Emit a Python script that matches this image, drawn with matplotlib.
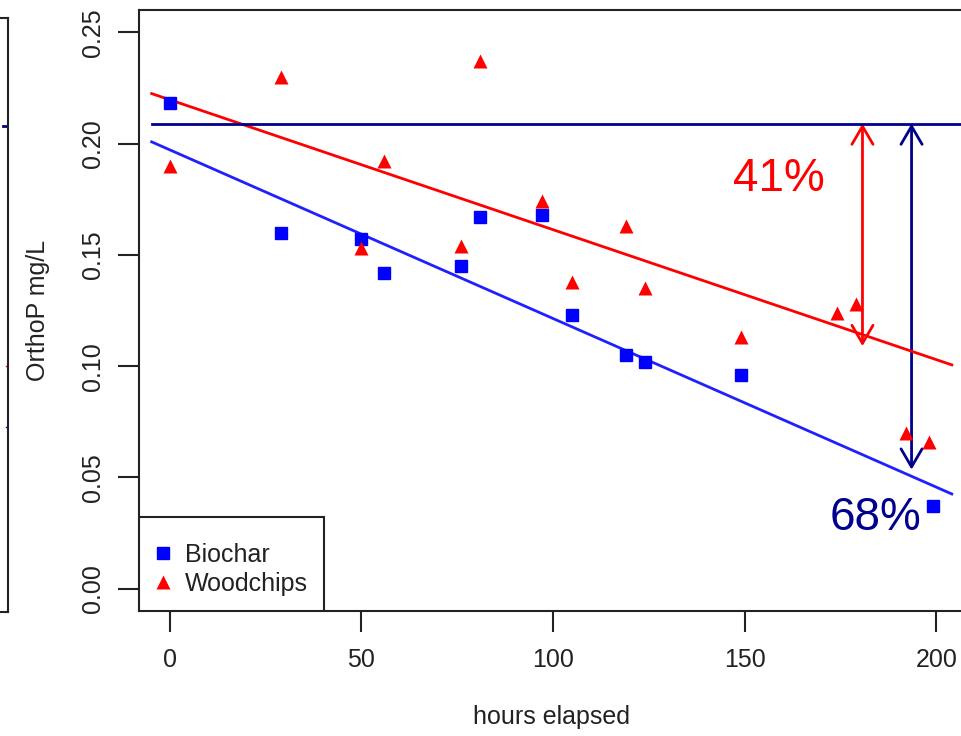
"""OrthoP decline: biochar vs woodchips with linear fits."""
import matplotlib
matplotlib.use("Agg")
import matplotlib.pyplot as plt
from matplotlib.patches import FancyArrowPatch, Rectangle

plt.rcParams['font.family'] = ['Liberation Sans', 'DejaVu Sans']

# data
biochar_hours = [0, 29, 50, 56, 76, 81, 97, 105, 119, 124, 149, 199]
biochar_orthop = [0.218, 0.160, 0.157, 0.142, 0.145, 0.167, 0.168, 0.123, 0.105, 0.102, 0.096, 0.037]

wood_hours = [0, 29, 50, 56, 76, 81, 97, 105, 119, 124, 149, 174, 179, 192, 198]
wood_orthop = [0.190, 0.230, 0.153, 0.192, 0.154, 0.237, 0.174, 0.138, 0.163, 0.135, 0.113,
               0.124, 0.128, 0.070, 0.066]

# fitted lines (intercept, slope per hour) and the start level
fit_x = [-4.7, 204]
biochar_fit = (0.1972, -0.000758)
wood_fit = (0.2197, -0.000584)
start_level = 0.209

# reduction arrows: hour, lower end; labels and where they sit
wood_arrow = (180.7, 0.109)
biochar_arrow = (193.5, 0.0535)
wood_pct = ("41%", 159.0, 0.184)
biochar_pct = ("68%", 184.0, 0.032)

# left neighbour panel (only its right edge shows)
left_levels = {"navy": 0.211, "red": 0.102, "blue": 0.074}

RED = "#ff0000"
BLUE = "#0000ff"
NAVY = "#00008b"
INK = "#222222"


def main():
    W, H = 961, 736
    fig = plt.figure(figsize=(W / 100, H / 100), dpi=100)

    # main axes, right edge runs past the figure like the cropped original
    x0, x1 = -8.0, 207.0
    ppx = 3.834
    left_px, top_px, bot_px = 139, 10, 611
    ax_w_px = (x1 - x0) * ppx
    ax_h_px = bot_px - top_px
    ax = fig.add_axes([left_px / W, 1 - bot_px / H, ax_w_px / W, ax_h_px / H])

    # neighbouring panel edge
    ax0 = fig.add_axes([-0.5, 1 - 612 / H, 0.5 + 8 / W, (612 - 18) / H])
    ax0.set_xlim(0, 1)
    ax0.set_ylim(-0.01, 0.26)
    ax0.set_xticks([])
    ax0.set_yticks([])
    for s in ax0.spines.values():
        s.set_linewidth(1.5)
        s.set_color(INK)
    ax0.plot([0.99, 1.0], [left_levels["navy"]] * 2, color=NAVY, lw=2)
    ax0.plot([0.995, 1.0], [left_levels["red"]] * 2, color=RED, lw=1)
    ax0.plot([0.995, 1.0], [left_levels["blue"]] * 2, color=BLUE, lw=1)

    ax.set_xlim(x0, x1)
    ax.set_ylim(-0.01, 0.26)

    # fits and start level
    ax.plot(fit_x, [biochar_fit[0] + biochar_fit[1] * x for x in fit_x], color="#2020ff", lw=2)
    ax.plot(fit_x, [wood_fit[0] + wood_fit[1] * x for x in fit_x], color=RED, lw=2)
    ax.plot([fit_x[0], x1], [start_level, start_level], color=NAVY, lw=2)

    ax.plot(biochar_hours, biochar_orthop, ls="none", marker="s", ms=8,
            color=BLUE, label="Biochar")
    ax.plot(wood_hours, wood_orthop, ls="none", marker="^", ms=9.5,
            color=RED, mec="none", label="Woodchips")

    for (hx, low), col in [(wood_arrow, RED), (biochar_arrow, NAVY)]:
        arr = FancyArrowPatch((hx, start_level), (hx, low),
                              arrowstyle="<->,head_length=0.65,head_width=0.38",
                              mutation_scale=20, color=col, lw=2,
                              shrinkA=0, shrinkB=0)
        ax.add_patch(arr)

    for (txt, hx, yv), col in [(wood_pct, RED), (biochar_pct, NAVY)]:
        ax.text(hx, yv, txt, color=col, fontsize=33, ha="center", va="center")

    ax.set_xticks([0, 50, 100, 150, 200])
    ax.set_yticks([0.0, 0.05, 0.10, 0.15, 0.20, 0.25])
    ax.set_yticklabels(["0.00", "0.05", "0.10", "0.15", "0.20", "0.25"],
                       rotation=90, va="center")
    ax.tick_params(axis="both", length=15, width=1.5, color=INK,
                   labelsize=18, labelcolor=INK)
    ax.tick_params(axis="x", pad=11.5)
    ax.tick_params(axis="y", pad=9.5)
    for s in ax.spines.values():
        s.set_linewidth(1.5)
        s.set_color(INK)

    ax.set_xlabel("hours elapsed", fontsize=18, color=INK, labelpad=24)
    ax.set_ylabel("OrthoP mg/L", fontsize=18, color=INK, labelpad=22.5)

    # legend box (R style, box flush with the bottom-left corner)
    box_w, box_h = 185, 94
    ax.add_patch(Rectangle((0, 0), box_w / ax_w_px, box_h / ax_h_px,
                           transform=ax.transAxes, facecolor="white",
                           edgecolor=INK, lw=1.5, zorder=5))
    leg = ax.legend(loc="lower left", bbox_to_anchor=(4 / ax_w_px, 3 / ax_h_px),
                    fontsize=18, frameon=False, borderaxespad=0, borderpad=0.5,
                    labelspacing=0.2, handlelength=0.6, handletextpad=0.58)
    leg.set_zorder(6)
    for t in leg.get_texts():
        t.set_color(INK)

    fig.savefig("out.png", dpi=100)


if __name__ == "__main__":
    main()
